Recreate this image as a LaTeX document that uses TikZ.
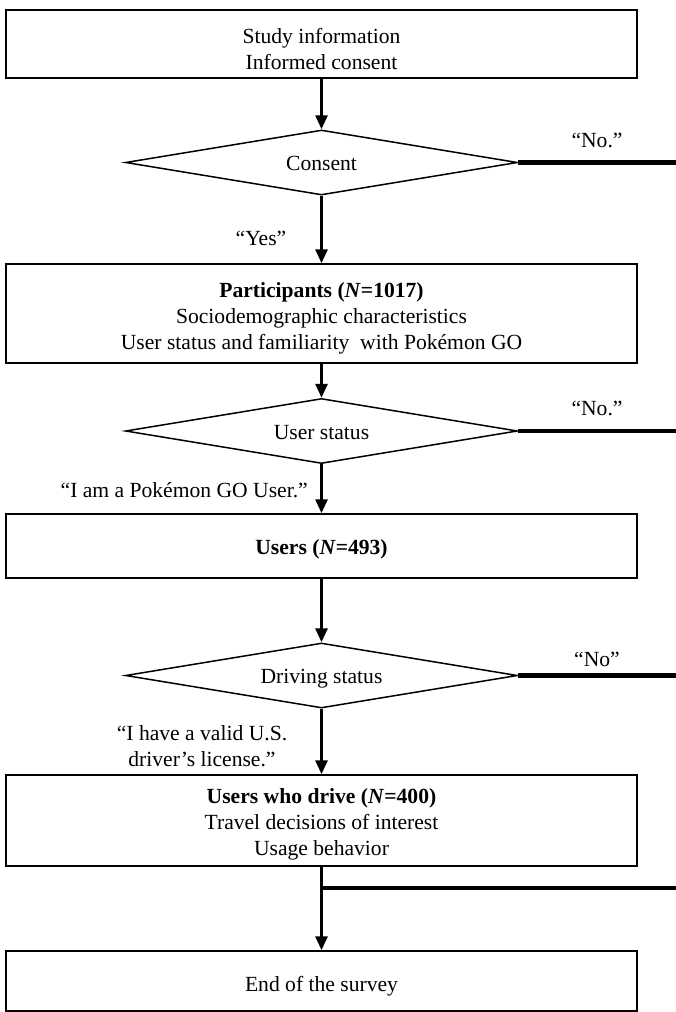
\documentclass[tikz,border=0pt]{standalone}
\usepackage{fontspec}
\setmainfont{Liberation Serif}
\usetikzlibrary{shapes.geometric,arrows.meta}
\begin{document}
\begin{tikzpicture}[x=1pt,y=-1pt,
  every node/.style={font=\fontsize{21.6}{26}\selectfont},
  every label/.style={align=center,inner sep=0pt},
  boxnode/.style={draw,line width=1.5pt,minimum width=631pt,inner sep=0pt},
  decision/.style={draw,diamond,line width=1.5pt,minimum width=392pt,minimum height=65pt,inner sep=0pt},
  flow/.style={line width=3pt,-{Triangle[width=12pt,length=14pt]}},
  exit/.style={line width=4.5pt},
  lbl/.style={inner sep=0pt,align=center}]
\useasboundingbox (0,0) rectangle (675,1012);
\coordinate (rim) at (690,0);

\node[boxnode,minimum height=68pt,label={[yshift=-5pt]center:{Study information\\Informed consent}}] (b1) at (321.5,44) {};
\node[decision,label={[yshift=-1pt]center:Consent}] (d1) at (321.5,162.5) {};
\node[boxnode,minimum height=99pt,label={[yshift=-4.5pt]center:{\textbf{Participants (\textit{N}=1017)}\\Sociodemographic characteristics\\User status and familiarity \ with Pokémon GO}}] (b2) at (321.5,313.5) {};
\node[decision,label={[yshift=-2pt]center:User status}] (d2) at (321.5,431) {};
\node[boxnode,minimum height=64pt,label={[yshift=-3pt]center:{\textbf{Users (\textit{N}=493)}}}] (b3) at (321.5,546) {};
\node[decision,label={[yshift=-3pt]center:Driving status}] (d3) at (321.5,675.5) {};
\node[boxnode,minimum height=91pt,label={[yshift=-4pt]center:{\textbf{Users who drive (\textit{N}=400)}\\Travel decisions of interest\\Usage behavior}}] (b4) at (321.5,820.5) {};
\node[boxnode,minimum height=60pt,label={[yshift=-5.5pt]center:End of the survey}] (b5) at (321.5,981) {};

\coordinate (j) at (321.5,888);

\draw[flow] (b1) -- (d1);
\draw[flow] (d1) -- (b2);
\draw[flow] (b2) -- (d2);
\draw[flow] (d2) -- (b3);
\draw[flow] (b3) -- (d3);
\draw[flow] (d3) -- (b4);
\draw[line width=3pt] (b4.south) -- (j);
\draw[flow] (j) -- (b5);

\draw[exit] (d1.east) -- (d1.east -| rim);
\draw[exit] (d2.east) -- (d2.east -| rim);
\draw[exit] (d3.east) -- (d3.east -| rim);
\draw[exit] (j) -- (j -| rim);

\node[lbl] (no1) at (597,140) {“No.”};
\node[lbl] (yes) at (261,238) {“Yes”};
\node[lbl] (no2) at (597,408) {“No.”};
\node[lbl,anchor=east] (usr) at (308,490) {“I am a Pokémon GO User.”};
\node[lbl] (no3) at (597,659) {“No”};
\node[lbl] (lic) at (202,746) {“I have a valid U.S.\\driver’s license.”};
\end{tikzpicture}
\end{document}
